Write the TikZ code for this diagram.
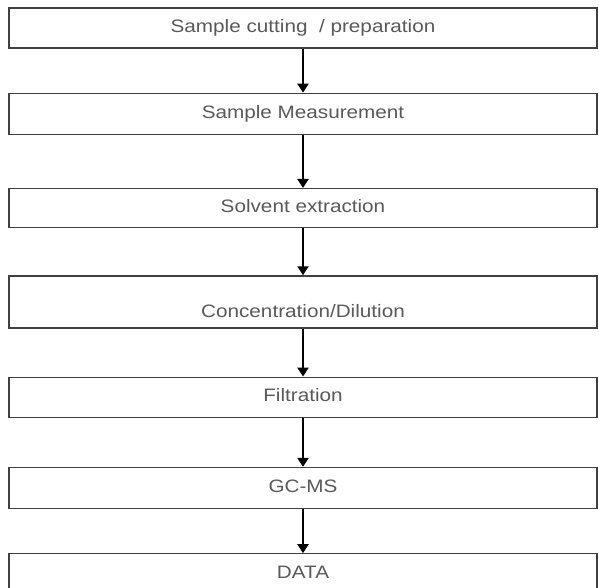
\documentclass[tikz,border=0pt]{standalone}
\usepackage{fontspec}
\setmainfont[FakeStretch=1.15]{Liberation Sans}
\usetikzlibrary{
    positioning,   % below=of
    arrows.meta    % Triangle tips
}
\tikzset{
    stage/.style={
        rectangle, draw=black!75, line width=1.3pt,
        minimum width=588pt, minimum height=40pt,
        inner sep=0pt, align=center,
        font=\fontsize{18}{20}\selectfont, text=black!65,
        text height=13pt, text depth=4pt
    },
    flow/.style={
        -{Triangle[width=11pt,length=9pt]}, line width=2.3pt
    }
}

\begin{document}
\begin{tikzpicture}
    \useasboundingbox (0,0) rectangle (599pt,-588pt);
    \node[stage] (cut) at (303pt,-28pt) {Sample cutting~~/ preparation};
    \node[stage, minimum height=41pt, below=44pt of cut]  (meas) {Sample Measurement};
    \node[stage, minimum height=39pt, below=53pt of meas] (solv) {Solvent extraction};
    \node[stage, minimum height=52pt, below=47pt of solv,
          text height=36pt, text depth=4pt]               (conc) {Concentration/Dilution};
    \node[stage, below=48pt of conc]                      (filt) {Filtration};
    \node[stage, minimum height=41pt, below=49pt of filt] (gcms) {GC-MS};
    \node[stage, below=44pt of gcms]                      (data) {DATA};
    \draw[flow] (cut)  -- (meas);
    \draw[flow] (meas) -- (solv);
    \draw[flow] (solv) -- (conc);
    \draw[flow] (conc) -- (filt);
    \draw[flow] (filt) -- (gcms);
    \draw[flow] (gcms) -- (data);
\end{tikzpicture}
\end{document}
